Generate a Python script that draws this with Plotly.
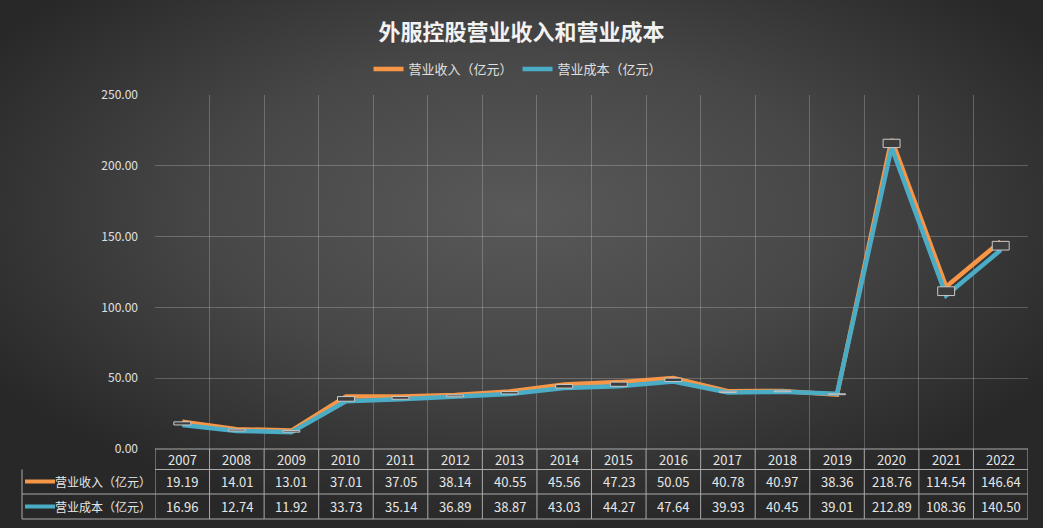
import base64
import plotly.graph_objects as go

years = ['2007', '2008', '2009', '2010', '2011', '2012', '2013', '2014',
         '2015', '2016', '2017', '2018', '2019', '2020', '2021', '2022']
revenue = [19.19, 14.01, 13.01, 37.01, 37.05, 38.14, 40.55, 45.56,
           47.23, 50.05, 40.78, 40.97, 38.36, 218.76, 114.54, 146.64]
cost = [16.96, 12.74, 11.92, 33.73, 35.14, 36.89, 38.87, 43.03,
        44.27, 47.64, 39.93, 40.45, 39.01, 212.89, 108.36, 140.50]
series_names = ['营业收入（亿元）', '营业成本（亿元）']
series_colors = ['#F79646', '#4BACC6']

FONT = 'Noto Sans CJK SC'
W_PX, H_PX = 1043, 528
L, R, T, B = 155, 1028, 95, 449
PW, PH = R - L, B - T


def px(x):
    return (x - L) / PW


def py(y):
    return (B - y) / PH


# radial gradient background
svg = ('<svg xmlns="http://www.w3.org/2000/svg" width="1043" height="528" '
       'preserveAspectRatio="none"><defs><radialGradient id="g" cx="50%" cy="40%" r="60%">'
       '<stop offset="0" stop-color="#595959"/><stop offset="0.5" stop-color="#474747"/>'
       '<stop offset="1" stop-color="#282828"/></radialGradient></defs>'
       '<rect width="1043" height="528" fill="url(#g)"/></svg>')
bg_src = 'data:image/svg+xml;base64,' + base64.b64encode(svg.encode()).decode()

fig = go.Figure()

for name, vals, col in zip(series_names, [revenue, cost], series_colors):
    fig.add_trace(go.Scatter(
        x=years, y=vals, name=name, mode='lines',
        line=dict(color=col, width=4.5),
    ))

# up / down bars
lows = [min(a, b) for a, b in zip(revenue, cost)]
diffs = [abs(a - b) for a, b in zip(revenue, cost)]
fig.add_trace(go.Bar(
    x=years, y=diffs, base=lows, yaxis='y2', width=0.31,
    marker=dict(color='#3d3d3d', line=dict(color='#c8c8c8', width=1)),
    showlegend=False, hoverinfo='skip',
))

shapes = []
line_col = '#aaaaaa'
# table horizontal lines
shapes.append(dict(type='line', xref='paper', yref='paper',
                   x0=px(L), x1=px(R), y0=py(469.5), y1=py(469.5),
                   line=dict(color=line_col, width=1)))
for yy in [494, 519]:
    shapes.append(dict(type='line', xref='paper', yref='paper',
                       x0=px(22), x1=px(R), y0=py(yy), y1=py(yy),
                       line=dict(color=line_col, width=1)))
shapes.append(dict(type='line', xref='paper', yref='paper',
                   x0=px(L), x1=px(R), y0=py(B), y1=py(B),
                   line=dict(color=line_col, width=1)))
# table vertical lines
for i in range(len(years) + 1):
    shapes.append(dict(type='line', xref='x', yref='paper',
                       x0=i - 0.5, x1=i - 0.5, y0=py(B), y1=py(519),
                       line=dict(color=line_col, width=1)))
shapes.append(dict(type='line', xref='paper', yref='paper',
                   x0=px(22), x1=px(22), y0=py(469.5), y1=py(519),
                   line=dict(color=line_col, width=1)))
# legend keys in table
for yy, col in zip([481.5, 506.5], series_colors):
    shapes.append(dict(type='line', xref='paper', yref='paper',
                       x0=px(25), x1=px(55), y0=py(yy), y1=py(yy),
                       line=dict(color=col, width=4)))

annotations = []
txt_font = dict(family=FONT, size=13, color='#e6e6e6')
for i, yr in enumerate(years):
    annotations.append(dict(x=i, y=py(459.5), xref='x', yref='paper', text=yr,
                            showarrow=False, font=txt_font, yanchor='middle'))
for yy, vals in zip([481.5, 506.5], [revenue, cost]):
    for i, v in enumerate(vals):
        annotations.append(dict(x=i, y=py(yy), xref='x', yref='paper',
                                text=f'{v:.2f}', showarrow=False,
                                font=txt_font, yanchor='middle'))
for yy, name in zip([481.5, 506.5], series_names):
    annotations.append(dict(x=px(53), y=py(yy), xref='paper', yref='paper',
                            text=name, showarrow=False, xanchor='left',
                            yanchor='middle',
                            font=dict(family=FONT, size=12, color='#e6e6e6')))

fig.update_layout(
    width=W_PX, height=H_PX,
    margin=dict(l=L, r=W_PX - R, t=T, b=H_PX - B, pad=0),
    paper_bgcolor='#3a3a3a', plot_bgcolor='rgba(0,0,0,0)',
    font=dict(family=FONT, color='#e6e6e6'),
    title=dict(text='<b>外服控股营业收入和营业成本</b>', x=0.5, xanchor='center',
               y=1 - 32 / H_PX, yanchor='middle',
               font=dict(family=FONT, size=22, color='#f2f2f2')),
    legend=dict(orientation='h', x=px(518), xanchor='center', y=py(69),
                yanchor='middle', font=dict(family=FONT, size=13, color='#e0e0e0'),
                bgcolor='rgba(0,0,0,0)', itemwidth=30),
    xaxis=dict(type='category', range=[-0.5, len(years) - 0.5],
               showticklabels=False, tickson='boundaries', ticks='',
               showgrid=True, gridcolor='rgba(255,255,255,0.22)', gridwidth=1,
               zeroline=False, showline=False),
    yaxis=dict(range=[0, 250], dtick=50, tickformat='.2f',
               showgrid=True, gridcolor='rgba(255,255,255,0.22)', gridwidth=1,
               zeroline=False, ticks='', ticklabelstandoff=16,
               tickfont=dict(family=FONT, size=12, color='#e0e0e0')),
    yaxis2=dict(range=[0, 250], overlaying='y', visible=False),
    shapes=shapes,
    annotations=annotations,
    images=[dict(source=bg_src, xref='paper', yref='paper',
                 x=px(0), y=py(0), sizex=W_PX / PW, sizey=H_PX / PH,
                 xanchor='left', yanchor='top', sizing='stretch', layer='below')],
    bargap=0.5,
)

fig.write_html("out.html", config={'displayModeBar': False},
               post_script="document.body.style.margin='0';")
